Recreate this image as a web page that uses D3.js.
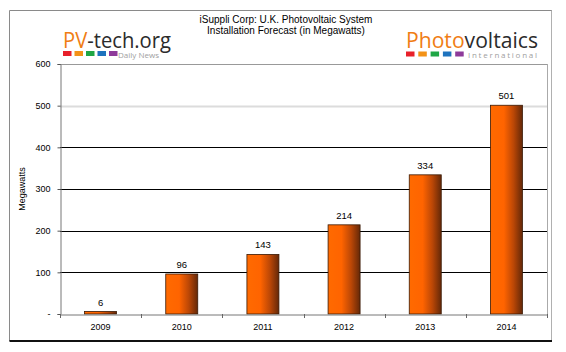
<!DOCTYPE html>
<html><head><meta charset="utf-8">
<script src="https://cdn.jsdelivr.net/npm/d3@7"></script>
<style>html,body{margin:0;padding:0;background:#fff;}svg{display:block;}</style>
</head><body>
<svg id="c" width="566" height="352"></svg>
<script>
const years = ["2009","2010","2011","2012","2013","2014"];
const values = [6, 96, 143, 214, 334, 501];
const yTicks = [0, 100, 200, 300, 400, 500, 600];
const titleLines = ["iSuppli Corp: U.K. Photovoltaic System", "Installation Forecast (in Megawatts)"];
const yAxisTitle = "Megawatts";
const logoColors = ["#e8202a", "#f39217", "#1fa645", "#1e73be", "#8e3a9a"];

const svg = d3.select("#c");
const W = 566, H = 352;
const plot = {l: 60, r: 547, t: 64, b: 314};

svg.append("rect").attr("width", W).attr("height", H).attr("fill", "#fff");

// outer frame
svg.append("line").attr("x1", 9.5).attr("x2", 552).attr("y1", 10.5).attr("y2", 10.5).attr("stroke", "#8a8a8a");
svg.append("line").attr("x1", 9.5).attr("x2", 9.5).attr("y1", 10.5).attr("y2", 341).attr("stroke", "#8a8a8a");
svg.append("line").attr("x1", 551.5).attr("x2", 551.5).attr("y1", 10.5).attr("y2", 341).attr("stroke", "#b0b0b0");
svg.append("line").attr("x1", 9.5).attr("x2", 552).attr("y1", 341).attr("y2", 341).attr("stroke", "#111").attr("stroke-width", 2);

const x = d3.scaleBand().domain(years).range([plot.l, plot.r]).padding(0);
const y = d3.scaleLinear().domain([0, 600]).range([plot.b, plot.t]);

// gradient
const defs = svg.append("defs");
const g = defs.append("linearGradient").attr("id", "barg").attr("x1", "0").attr("x2", "1").attr("y1", "0").attr("y2", "0");
g.append("stop").attr("offset", "0%").attr("stop-color", "#ff6a00");
g.append("stop").attr("offset", "42%").attr("stop-color", "#ff6400");
g.append("stop").attr("offset", "72%").attr("stop-color", "#bb4706");
g.append("stop").attr("offset", "100%").attr("stop-color", "#642808");

// gridlines
svg.append("g").selectAll("line").data(yTicks.filter(d => d > 0 && d < 600)).join("line")
  .attr("x1", plot.l).attr("x2", plot.r)
  .attr("y1", d => Math.round(y(d)) + 0.5).attr("y2", d => Math.round(y(d)) + 0.5)
  .attr("stroke", d => d === 500 ? "#dcdcdc" : "#000")
  .attr("stroke-width", d => d === 500 ? 2 : 1.2);

// plot top & right border
svg.append("line").attr("x1", plot.l).attr("x2", plot.r + 0.5).attr("y1", plot.t + 0.5).attr("y2", plot.t + 0.5).attr("stroke", "#999");
svg.append("line").attr("x1", plot.r + 0.5).attr("x2", plot.r + 0.5).attr("y1", plot.t).attr("y2", plot.b).attr("stroke", "#aaa");

// y axis
const yAxis = d3.axisLeft(y).tickValues(yTicks).tickSize(3).tickPadding(7)
  .tickFormat(d => d === 0 ? "-  " : d);
const ya = svg.append("g").attr("transform", `translate(${plot.l + 0.5},0)`).call(yAxis);
ya.select(".domain").attr("stroke", "#777");
ya.selectAll(".tick line").attr("stroke", "#555");
ya.selectAll("text").attr("font-family", "Liberation Sans, Arial, sans-serif").attr("font-size", 9).attr("fill", "#000");

// bars
svg.append("g").selectAll("rect").data(values).join("rect")
  .attr("x", (d, i) => x(years[i]) + x.bandwidth() / 2 - 16)
  .attr("width", 32)
  .attr("y", d => y(d))
  .attr("height", d => y(0) - y(d))
  .attr("fill", "url(#barg)")
  .attr("stroke", "#3a1a05").attr("stroke-width", 0.8);

// x axis
const xAxis = d3.axisBottom(x).tickSize(0).tickPadding(9);
const xa = svg.append("g").attr("transform", `translate(0,${plot.b + 0.5})`).call(xAxis);
xa.select(".domain").attr("stroke", "#777");
xa.selectAll("text").attr("font-family", "Liberation Sans, Arial, sans-serif").attr("font-size", 9).attr("fill", "#000");
// category boundary ticks
svg.append("g").selectAll("line").data(years.concat(["end"])).join("line")
  .attr("x1", (d, i) => Math.round(plot.l + i * x.step()) + 0.5)
  .attr("x2", (d, i) => Math.round(plot.l + i * x.step()) + 0.5)
  .attr("y1", plot.b).attr("y2", plot.b + 4)
  .attr("stroke", "#666");

// value labels
svg.append("g").selectAll("text").data(values).join("text")
  .attr("x", (d, i) => x(years[i]) + x.bandwidth() / 2)
  .attr("y", d => y(d) - 6)
  .attr("text-anchor", "middle")
  .attr("font-family", "Liberation Sans, Arial, sans-serif").attr("font-size", 9.5).attr("fill", "#000")
  .text(d => d);

// y axis title
svg.append("text").attr("transform", "translate(24.5,189) rotate(-90)")
  .attr("text-anchor", "middle")
  .attr("font-family", "Liberation Sans, Arial, sans-serif").attr("font-size", 9).attr("fill", "#000")
  .text(yAxisTitle);

// title
svg.append("g").selectAll("text").data(titleLines).join("text")
  .attr("x", 286).attr("y", (d, i) => 22.5 + i * 11)
  .attr("text-anchor", "middle")
  .attr("font-family", "Liberation Sans, Arial, sans-serif").attr("font-size", 10).attr("fill", "#000")
  .text(d => d);

// logo: PV-tech.org
const l1 = svg.append("text").attr("x", 63).attr("y", 47.5)
  .attr("font-family", "Open Sans, sans-serif").attr("font-size", 22)
  .attr("textLength", 108).attr("lengthAdjust", "spacingAndGlyphs");
l1.append("tspan").attr("fill", "#f07d14").text("PV");
l1.append("tspan").attr("fill", "#2b2b2b").text("-tech.org");
svg.append("g").selectAll("rect").data(logoColors).join("rect")
  .attr("x", (d, i) => 63 + i * 11.5).attr("y", 51).attr("width", 8.5).attr("height", 5)
  .attr("fill", d => d);
svg.append("text").attr("x", 118).attr("y", 57.5).attr("font-family", "Open Sans, sans-serif")
  .attr("font-size", 8).attr("fill", "#a0a0a0").attr("textLength", 41).attr("lengthAdjust", "spacingAndGlyphs")
  .text("Daily News");

// logo: Photovoltaics
const l2 = svg.append("text").attr("x", 406).attr("y", 47.5)
  .attr("font-family", "Open Sans, sans-serif").attr("font-size", 22)
  .attr("textLength", 132).attr("lengthAdjust", "spacingAndGlyphs");
l2.append("tspan").attr("fill", "#f07d14").text("Photo");
l2.append("tspan").attr("fill", "#2b2b2b").text("voltaics");
svg.append("g").selectAll("rect").data(logoColors).join("rect")
  .attr("x", (d, i) => 406 + i * 12.3).attr("y", 51.5).attr("width", 8.5).attr("height", 5)
  .attr("fill", d => d);
svg.append("text").attr("x", 468).attr("y", 57.5).attr("font-family", "Open Sans, sans-serif")
  .attr("font-size", 8).attr("fill", "#a0a0a0").attr("textLength", 69).attr("lengthAdjust", "spacing")
  .text("International");
</script>
</body></html>
